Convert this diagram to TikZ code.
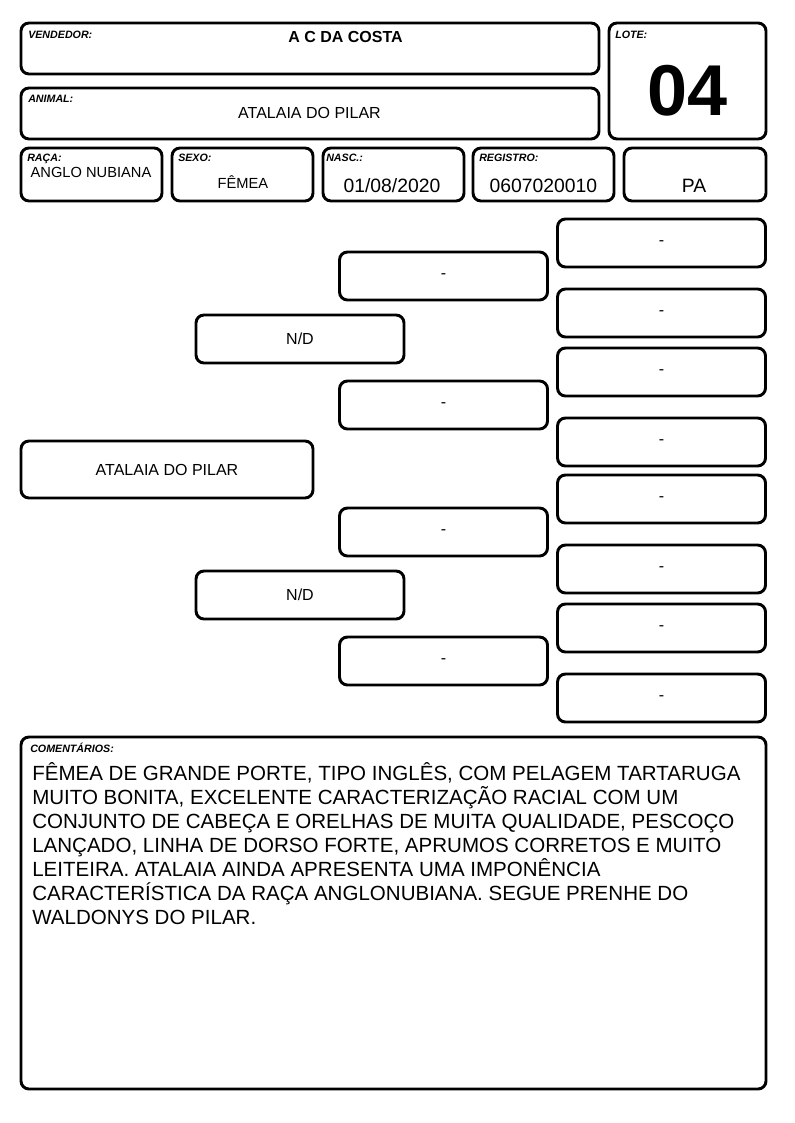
\documentclass[tikz,border=0pt]{standalone}
\usepackage{fontspec}
\setmainfont{Liberation Sans}

\tikzset{
  cell/.style={draw=black, line width=2.2pt, rounded corners=6pt},
  lbl/.style={anchor=base west, inner sep=0pt, font=\fontsize{8}{8}\selectfont\bfseries\itshape},
  val/.style={anchor=base, inner sep=0pt, font=\fontsize{12}{12}\selectfont},
  big/.style={val, font=\fontsize{14.5}{14.5}\selectfont},
  ped/.style={cell, minimum width=156pt, minimum height=36pt, inner sep=0pt, font=\fontsize{12}{12}\selectfont},
}

\begin{document}
\begin{tikzpicture}[x=0.75pt, y=-0.75pt]
  \useasboundingbox (0,0) rectangle (794,1123);
  % header boxes
  \draw[cell] (21,23) rectangle (599,74);
  \draw[cell] (21,88) rectangle (599,139);
  \draw[cell] (609,23) rectangle (766,139);
  \draw[cell] (21,148) rectangle (162,201);
  \draw[cell] (172,148) rectangle (313,201);
  \draw[cell] (323,148) rectangle (464,201);
  \draw[cell] (473,148) rectangle (614,201);
  \draw[cell] (624,148) rectangle (766,201);
  \node[lbl] (vendedorlbl) at (28,39) {VENDEDOR:};
  \node[val, font=\fontsize{12}{12}\selectfont\bfseries] (vendedor) at (345.5,43) {A C DA COSTA};
  \node[lbl] (animallbl) at (28,103) {ANIMAL:};
  \node[val] (animal) at (309.5,119) {ATALAIA DO PILAR};
  \node[lbl] (lotelbl) at (615,39) {LOTE:};
  \node[inner sep=0pt, font=\fontsize{54}{54}\selectfont\bfseries] (lote) at (688,91) {04};
  \node[lbl] (racalbl) at (27,162) {RAÇA:};
  \node[val, font=\fontsize{11}{11}\selectfont] (raca) at (91,178) {ANGLO NUBIANA};
  \node[lbl] (sexolbl) at (178,162) {SEXO:};
  \node[val, font=\fontsize{11}{11}\selectfont] (sexo) at (243,189) {FÊMEA};
  \node[lbl] (nasclbl) at (326,162) {NASC.:};
  \node[big] (nasc) at (392,193) {01/08/2020};
  \node[lbl] (registrolbl) at (479,162) {REGISTRO:};
  \node[big] (registro) at (543.5,193) {0607020010};
  \node[big] (uf) at (694,193) {PA};
  % pedigree
  \node[ped, minimum width=219pt, minimum height=42.75pt] (filho) at (167,469.5) {ATALAIA DO PILAR};
  \node[ped] (pai) at (300,339) {N/D};
  \node[ped] (mae) at (300,595) {N/D};
  \node[ped] (avopp) at (443.5,276) {-};
  \node[ped] (avopm) at (443.5,405) {-};
  \node[ped] (avomp) at (443.5,532) {-};
  \node[ped] (avomm) at (443.5,661) {-};
  \node[ped] (bisa1) at (661.5,243) {-};
  \node[ped] (bisa2) at (661.5,313) {-};
  \node[ped] (bisa3) at (661.5,372) {-};
  \node[ped] (bisa4) at (661.5,442) {-};
  \node[ped] (bisa5) at (661.5,499) {-};
  \node[ped] (bisa6) at (661.5,569) {-};
  \node[ped] (bisa7) at (661.5,628) {-};
  \node[ped] (bisa8) at (661.5,698) {-};
  % comments
  \draw[cell] (21,737) rectangle (766,1089);
  \node[lbl] (comentlbl) at (30,752) {COMENTÁRIOS:};
  \node[anchor=base west, inner sep=0pt, align=left, font=\fontsize{15.4}{18}\selectfont] (coment) at (32,924)
    {FÊMEA DE GRANDE PORTE, TIPO INGLÊS, COM PELAGEM TARTARUGA\\
     MUITO BONITA, EXCELENTE CARACTERIZAÇÃO RACIAL COM UM\\
     CONJUNTO DE CABEÇA E ORELHAS DE MUITA QUALIDADE, PESCOÇO\\
     LANÇADO, LINHA DE DORSO FORTE, APRUMOS CORRETOS E MUITO\\
     LEITEIRA. ATALAIA AINDA APRESENTA UMA IMPONÊNCIA\\
     CARACTERÍSTICA DA RAÇA ANGLONUBIANA. SEGUE PRENHE DO\\
     WALDONYS DO PILAR.};
\end{tikzpicture}
\end{document}
